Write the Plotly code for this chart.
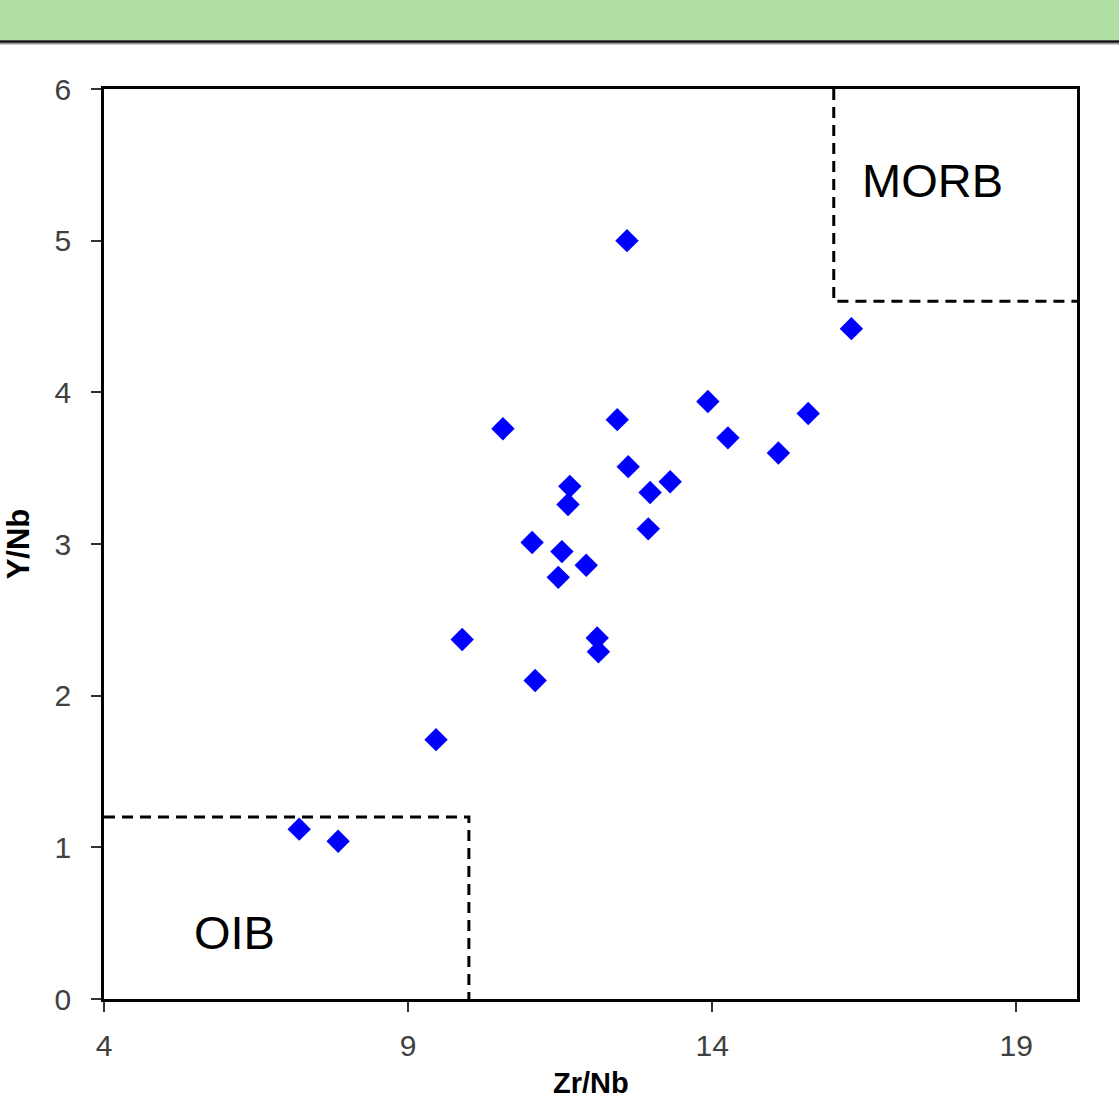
import plotly.graph_objects as go

zr_nb = [12.60, 16.29, 13.93, 10.56, 12.44, 15.58, 14.26, 15.09, 12.62, 11.66, 11.63, 12.98, 13.31,
         12.95, 11.04, 11.53, 11.47, 11.93, 9.89, 12.11, 12.13, 11.09, 9.46, 7.21, 7.85]
y_nb = [5.00, 4.42, 3.94, 3.76, 3.82, 3.86, 3.70, 3.60, 3.51, 3.38, 3.26, 3.34, 3.41,
        3.10, 3.01, 2.95, 2.78, 2.86, 2.37, 2.38, 2.29, 2.10, 1.71, 1.12, 1.04]

oib_x = [4, 10, 10]
oib_y = [1.2, 1.2, 0]
morb_x = [16, 16, 20]
morb_y = [6, 4.6, 4.6]

x_ticks = [4, 9, 14, 19]
y_ticks = [0, 1, 2, 3, 4, 5, 6]

W, H = 1119, 1100
L, R, T, B = 104, 42, 89, 101
pw, ph = W - L - R, H - T - B

fig = go.Figure()
for xs, ys in [(oib_x, oib_y), (morb_x, morb_y)]:
    fig.add_trace(go.Scatter(x=xs, y=ys, mode="lines",
                             line=dict(color="black", width=3, dash="11px,7px"),
                             hoverinfo="skip", showlegend=False))
fig.add_trace(go.Scatter(x=zr_nb, y=y_nb, mode="markers",
                         marker=dict(symbol="diamond", size=18, color="#0000FF"),
                         showlegend=False))

fig.add_annotation(x=17.63, y=5.40, text="MORB", showarrow=False,
                   font=dict(family="Liberation Sans, Arial", size=47, color="black"))
fig.add_annotation(x=6.14, y=0.44, text="OIB", showarrow=False,
                   font=dict(family="Liberation Sans, Arial", size=47, color="black"))

def px_to_paper_y(py):
    return 1 + (T - py) / ph

def px_to_paper_x(px):
    return (px - L) / pw

# x-axis title, kept fully inside the bottom edge
fig.add_annotation(xref="paper", yref="paper", x=0.5, y=px_to_paper_y(1100),
                   xanchor="center", yanchor="bottom", showarrow=False,
                   text="<b>Zr/Nb</b>", borderpad=0,
                   font=dict(family="Liberation Sans, Arial", size=29, color="black"))

# header band
fig.add_shape(type="rect", xref="paper", yref="paper",
              x0=px_to_paper_x(-5), x1=px_to_paper_x(W + 5),
              y0=px_to_paper_y(40), y1=px_to_paper_y(-5),
              fillcolor="#B2DFA3", line=dict(width=0), layer="above")
fig.add_shape(type="line", xref="paper", yref="paper",
              x0=px_to_paper_x(-5), x1=px_to_paper_x(W + 5),
              y0=px_to_paper_y(43.5), y1=px_to_paper_y(43.5),
              line=dict(color="#999999", width=2))
fig.add_shape(type="line", xref="paper", yref="paper",
              x0=px_to_paper_x(-5), x1=px_to_paper_x(W + 5),
              y0=px_to_paper_y(41.5), y1=px_to_paper_y(41.5),
              line=dict(color="#111111", width=2.5))

tickfont = dict(family="Liberation Sans, Arial", size=30, color="#404040")
fig.update_xaxes(range=[4, 20], tickvals=x_ticks, ticks="outside", ticklen=10,
                 tickwidth=1.5, tickcolor="#333", showline=True, linecolor="black",
                 linewidth=2.5, mirror=True, showgrid=False, zeroline=False,
                 tickfont=tickfont, ticklabelstandoff=8, automargin=False)
fig.update_yaxes(range=[0, 6], tickvals=y_ticks, ticks="outside", ticklen=10,
                 tickwidth=1.5, tickcolor="#333", showline=True, linecolor="black",
                 linewidth=2.5, mirror=True, showgrid=False, zeroline=False,
                 tickfont=tickfont, ticklabelstandoff=14, automargin=False,
                 title=dict(text="<b>Y/Nb</b>", standoff=16,
                            font=dict(family="Liberation Sans, Arial", size=31, color="black")))
fig.update_layout(width=W, height=H, margin=dict(l=L, r=R, t=T, b=B),
                  plot_bgcolor="white", paper_bgcolor="white")
fig.write_html("out.html")
